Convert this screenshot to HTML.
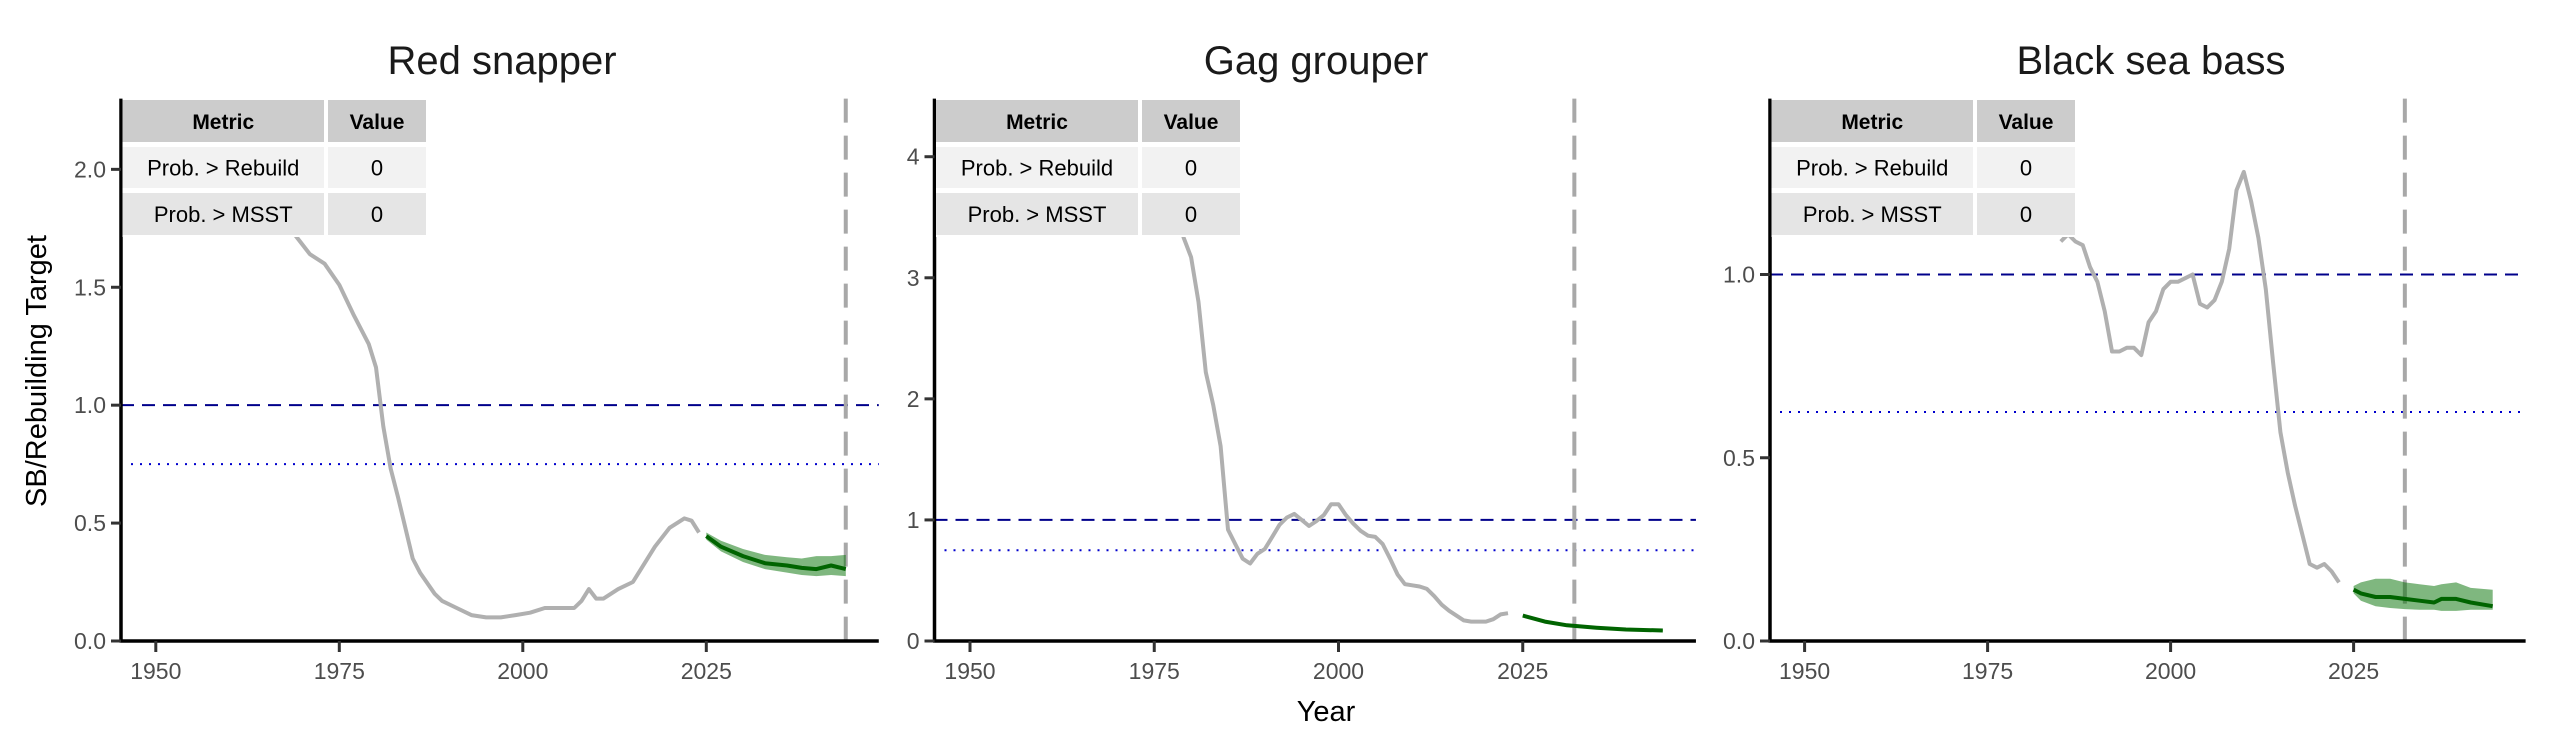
<!DOCTYPE html>
<html><head><meta charset="utf-8">
<style>
html,body{margin:0;padding:0;background:#fff;}
svg{display:block;font-family:"Liberation Sans",Arial,sans-serif;}
</style></head>
<body>
<svg id="chart" width="2550" height="750" viewBox="0 0 2550 750" xmlns="http://www.w3.org/2000/svg"></svg>
<script>
// ---- data ----
const panelTitles = ["Red snapper", "Gag grouper", "Black sea bass"];
const xTicks = [1950, 1975, 2000, 2025];
const yTicks1 = [0, 0.5, 1.0, 1.5, 2.0];
const yTickLabels1 = ["0.0", "0.5", "1.0", "1.5", "2.0"];
const yTicks2 = [0, 1, 2, 3, 4];
const yTickLabels2 = ["0", "1", "2", "3", "4"];
const yTicks3 = [0, 0.5, 1.0];
const yTickLabels3 = ["0.0", "0.5", "1.0"];
const yMax = [2.30, 4.48, 1.48];
const rebuildYear = [2044, 2032, 2032];
const msstLevel = [0.75, 0.75, 0.625];
const targetLevel = [1.0, 1.0, 1.0];
const tableMetrics = ["Prob. > Rebuild", "Prob. > MSST"];
const tableValues = [["0", "0"], ["0", "0"], ["0", "0"]];

// Red snapper
const rsHistYears = [1963,1966,1969,1971,1973,1975,1977,1979,1980,1981,1982,1983,1985,1986,1988,1989,1991,1993,1995,1997,1999,2001,2003,2005,2007,2008,2009,2010,2011,2013,2015,2016,2018,2020,2022,2023,2024];
const rsHistVals = [2.05,1.88,1.72,1.64,1.60,1.51,1.38,1.26,1.16,0.91,0.73,0.61,0.35,0.29,0.20,0.17,0.14,0.11,0.10,0.10,0.11,0.12,0.14,0.14,0.14,0.17,0.22,0.18,0.18,0.22,0.25,0.30,0.40,0.48,0.52,0.51,0.46];
const rsProjYears = [2025,2027,2030,2033,2036,2038,2040,2042,2044];
const rsProjVals = [0.445,0.40,0.36,0.33,0.32,0.31,0.305,0.32,0.305];
const rsProjHi = [0.46,0.425,0.39,0.365,0.355,0.35,0.36,0.36,0.365];
const rsProjLo = [0.43,0.38,0.335,0.305,0.29,0.28,0.275,0.28,0.275];

// Gag grouper
const ggHistYears = [1976,1978,1979,1980,1981,1982,1983,1984,1985,1986,1987,1988,1989,1990,1991,1992,1993,1994,1995,1996,1997,1998,1999,2000,2001,2002,2003,2004,2005,2006,2007,2008,2009,2010,2011,2012,2013,2014,2015,2016,2017,2018,2019,2020,2021,2022,2023];
const ggHistVals = [3.9,3.55,3.33,3.17,2.80,2.22,1.95,1.61,0.92,0.80,0.68,0.64,0.72,0.76,0.86,0.96,1.02,1.05,1.00,0.95,0.99,1.04,1.13,1.13,1.04,0.97,0.91,0.87,0.86,0.80,0.68,0.55,0.47,0.46,0.45,0.43,0.37,0.30,0.25,0.21,0.17,0.16,0.16,0.16,0.18,0.22,0.23];
const ggProjYears = [2025,2028,2031,2035,2039,2044];
const ggProjVals = [0.21,0.16,0.13,0.11,0.095,0.087];
const ggProjHi = [0.215,0.165,0.136,0.116,0.10,0.092];
const ggProjLo = [0.205,0.155,0.124,0.104,0.09,0.082];

// Black sea bass
const bsHistYears = [1985,1986,1987,1988,1989,1990,1991,1992,1993,1994,1995,1996,1997,1998,1999,2000,2001,2002,2003,2004,2005,2006,2007,2008,2009,2010,2011,2012,2013,2014,2015,2016,2017,2018,2019,2020,2021,2022,2023];
const bsHistVals = [1.09,1.11,1.09,1.08,1.02,0.98,0.90,0.79,0.79,0.80,0.80,0.78,0.87,0.90,0.96,0.98,0.98,0.99,1.00,0.92,0.91,0.93,0.98,1.07,1.23,1.28,1.20,1.10,0.96,0.76,0.57,0.46,0.37,0.29,0.21,0.20,0.21,0.19,0.16];
const bsProjYears = [2025,2026,2028,2030,2032,2034,2036,2037,2039,2041,2044];
const bsProjVals = [0.14,0.13,0.12,0.12,0.115,0.11,0.105,0.115,0.115,0.105,0.095];
const bsProjHi = [0.15,0.16,0.17,0.17,0.16,0.155,0.15,0.155,0.16,0.145,0.14];
const bsProjLo = [0.13,0.11,0.095,0.09,0.087,0.085,0.085,0.082,0.082,0.085,0.085];

// ---- layout ----
const panels = [
  {x0:121, x1950:155.8, ppy:7.34, yTicks:yTicks1, yLabels:yTickLabels1, hy:rsHistYears, hv:rsHistVals, py:rsProjYears, pv:rsProjVals, ph:rsProjHi, pl:rsProjLo, titleX:502, colSplit:324, tableR:426},
  {x0:934.5, x1950:970, ppy:7.37, yTicks:yTicks2, yLabels:yTickLabels2, hy:ggHistYears, hv:ggHistVals, py:ggProjYears, pv:ggProjVals, ph:ggProjHi, pl:ggProjLo, titleX:1316, colSplit:1138, tableR:1240},
  {x0:1770, x1950:1804.6, ppy:7.32, yTicks:yTicks3, yLabels:yTickLabels3, hy:bsHistYears, hv:bsHistVals, py:bsProjYears, pv:bsProjVals, ph:bsProjHi, pl:bsProjLo, titleX:2151, colSplit:1973, tableR:2075}
];
const yBottom = 641, yTop = 98.6;
const NS = "http://www.w3.org/2000/svg";
const svg = document.getElementById("chart");
function mk(tag, attrs, parent){
  const e = document.createElementNS(NS, tag);
  for (const k in attrs) e.setAttribute(k, attrs[k]);
  (parent||svg).appendChild(e);
  return e;
}

panels.forEach((p, i) => {
  const xs = yr => p.x1950 + (yr - 1950) * p.ppy;
  const ys = v => yBottom - v / yMax[i] * (yBottom - yTop);
  const xRight = p.x1950 + 98.5 * p.ppy;
  const g = mk("g", {});
  
  

  const t = mk("text", {x:p.titleX, y:74, "text-anchor":"middle", "font-size":40, fill:"#1a1a1a"}, g);
  t.textContent = panelTitles[i];
  
  

  // reference lines
  const tl = mk("line", {x1:p.x0, x2:xRight, y1:ys(targetLevel[i]), y2:ys(targetLevel[i]), stroke:"#00008B", "stroke-width":2, "stroke-dasharray":"13,8"}, g);
  
  
  const ml = mk("line", {x1:p.x0 + 10, x2:xRight, y1:ys(msstLevel[i]), y2:ys(msstLevel[i]), stroke:"#0000CD", "stroke-width":2, "stroke-dasharray":"2,7"}, g);
  
  
  const vl = mk("line", {x1:xs(rebuildYear[i]), x2:xs(rebuildYear[i]), y1:yTop, y2:yBottom, stroke:"#a8a8a8", "stroke-width":4, "stroke-dasharray":"24,13"}, g);
  
  

  // band
  let d = p.py.map((y, k) => (k ? "L" : "M") + xs(y).toFixed(1) + "," + ys(p.ph[k]).toFixed(1)).join("");
  for (let k = p.py.length - 1; k >= 0; k--) d += "L" + xs(p.py[k]).toFixed(1) + "," + ys(p.pl[k]).toFixed(1);
  const band = mk("path", {d:d + "Z", fill:"#007000", "fill-opacity":0.5, stroke:"none"}, g);
  
  

  const hist = mk("polyline", {points:p.hy.map((y, k) => xs(y).toFixed(1) + "," + ys(p.hv[k]).toFixed(1)).join(" "), fill:"none", stroke:"#b0b0b0", "stroke-width":4, "stroke-linejoin":"round"}, g);
  
  
  const proj = mk("polyline", {points:p.py.map((y, k) => xs(y).toFixed(1) + "," + ys(p.pv[k]).toFixed(1)).join(" "), fill:"none", stroke:"#006400", "stroke-width":4, "stroke-linejoin":"round"}, g);
  
  

  // axes
  const ax = mk("line", {x1:p.x0, x2:p.x0, y1:yTop, y2:yBottom + 1.5, stroke:"#000", "stroke-width":3.5}, g);
  
  
  const bx = mk("line", {x1:p.x0 - 1.5, x2:xRight, y1:yBottom, y2:yBottom, stroke:"#000", "stroke-width":3.5}, g);
  
  
  p.yTicks.forEach((v, k) => {
    mk("line", {x1:p.x0 - 10, x2:p.x0, y1:ys(v), y2:ys(v), stroke:"#333", "stroke-width":3}, g);
    const lb = mk("text", {x:p.x0 - 15, y:ys(v) + 8, "text-anchor":"end", "font-size":23, fill:"#4d4d4d"}, g);
    lb.textContent = p.yLabels[k];
    
    
  });
  xTicks.forEach(yr => {
    mk("line", {x1:xs(yr), x2:xs(yr), y1:yBottom, y2:yBottom + 11, stroke:"#333", "stroke-width":3}, g);
    const lb = mk("text", {x:xs(yr), y:679, "text-anchor":"middle", "font-size":23, fill:"#4d4d4d"}, g);
    lb.textContent = yr;
    
    
  });

  // table
  const tg = mk("g", {}, g);
  
  
  const L = p.x0 + 1.5, S = p.colSplit, R = p.tableR;
  const rows = [{y:100, h:42, fill:"#cccccc", c1:"Metric", c2:"Value", bold:true},
                {y:147, h:41, fill:"#f2f2f2", c1:tableMetrics[0], c2:tableValues[i][0]},
                {y:193, h:42, fill:"#e5e5e5", c1:tableMetrics[1], c2:tableValues[i][1]}];
  mk("rect", {x:L, y:98, width:R - L + 2, height:139, fill:"#fff"}, tg);
  rows.forEach(r => {
    mk("rect", {x:L, y:r.y, width:S - L, height:r.h, fill:r.fill}, tg);
    mk("rect", {x:S + 4, y:r.y, width:R - S - 4, height:r.h, fill:r.fill}, tg);
    const a = mk("text", {x:(L + S) / 2, y:r.y + r.h / 2 + 8, "text-anchor":"middle", "font-size":r.bold ? 21 : 22, "font-weight":r.bold ? "bold" : "normal", fill:"#000"}, tg);
    a.textContent = r.c1;
    
    
    const b = mk("text", {x:(S + 4 + R) / 2, y:r.y + r.h / 2 + 8, "text-anchor":"middle", "font-size":r.bold ? 21 : 22, "font-weight":r.bold ? "bold" : "normal", fill:"#000"}, tg);
    b.textContent = r.c2;
    
    
  });
});

const yt = mk("text", {x:0, y:0, transform:"translate(46,371) rotate(-90)", "text-anchor":"middle", "font-size":29, fill:"#000"});
yt.textContent = "SB/Rebuilding Target";


const xt = mk("text", {x:1326, y:721, "text-anchor":"middle", "font-size":29, fill:"#000"});
xt.textContent = "Year";


</script>
</body></html>
